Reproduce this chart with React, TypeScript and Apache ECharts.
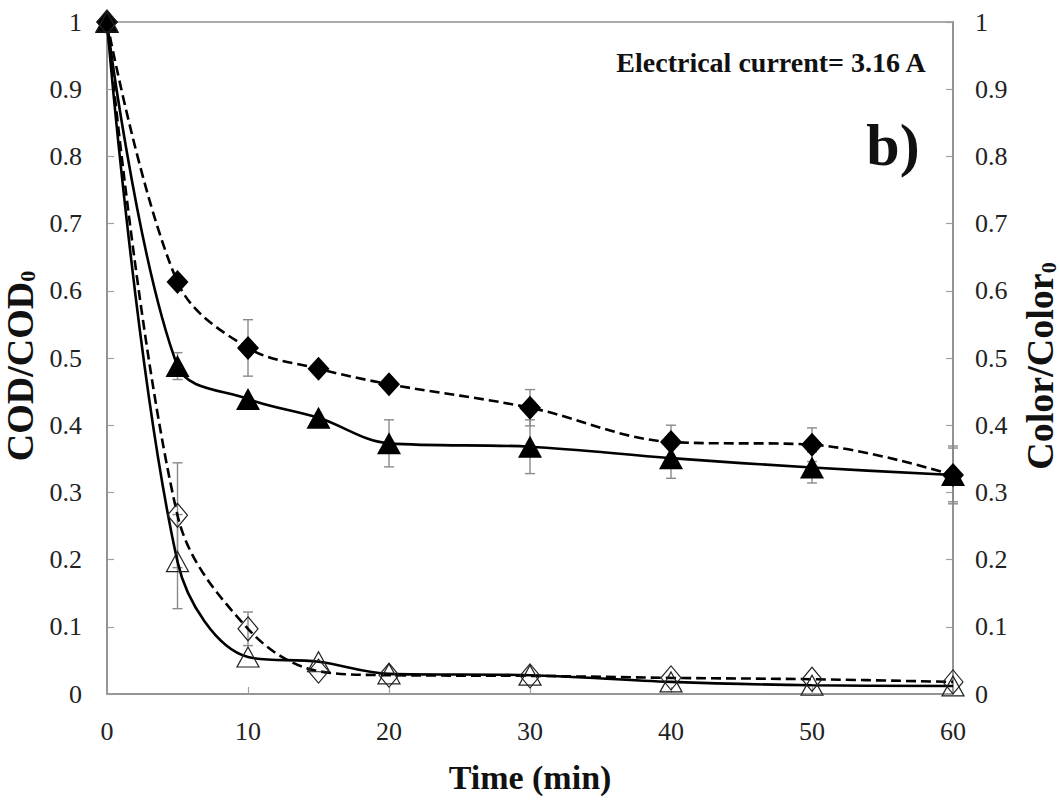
import React, { useEffect, useRef } from "react";
import * as echarts from "echarts";

const times = [0, 5, 10, 15, 20, 30, 40, 50, 60];
const codFilled = [1, 0.613, 0.515, 0.484, 0.461, 0.426, 0.375, 0.371, 0.326];
const codFilledErr = [0, 0, 0.042, 0, 0, 0.027, 0.025, 0.025, 0.043];
const colorFilled = [1, 0.488, 0.439, 0.411, 0.373, 0.368, 0.351, 0.337, 0.326];
const colorFilledErr = [0, 0.02, 0, 0, 0.035, 0.04, 0.03, 0.023, 0.04];
const codOpen = [1, 0.266, 0.097, 0.034, 0.028, 0.027, 0.024, 0.022, 0.018];
const codOpenErr = [0, 0.078, 0.025, 0, 0, 0, 0, 0, 0];
const colorOpen = [1, 0.197, 0.055, 0.048, 0.03, 0.028, 0.018, 0.013, 0.012];
const colorOpenErr = [0, 0.07, 0, 0, 0, 0, 0, 0, 0];

const FONT = "Liberation Serif";

function pairs(vals: number[]) {
  return times.map((t, i) => [t, vals[i]]);
}

function errData(vals: number[], errs: number[]) {
  const out: number[][] = [];
  times.forEach((t, i) => {
    if (errs[i] > 0) out.push([t, vals[i] - errs[i], vals[i] + errs[i]]);
  });
  return out;
}

function errSeries(vals: number[], errs: number[], yAxisIndex: number) {
  return {
    type: "custom",
    yAxisIndex,
    z: 1,
    silent: true,
    data: errData(vals, errs),
    renderItem: (params: any, api: any) => {
      const x = api.value(0);
      const lo = api.coord([x, api.value(1)]);
      const hi = api.coord([x, api.value(2)]);
      const w = 5;
      const style = { stroke: "#8a8a8a", lineWidth: 1.4 };
      return {
        type: "group",
        children: [
          { type: "line", shape: { x1: lo[0], y1: lo[1], x2: hi[0], y2: hi[1] }, style },
          { type: "line", shape: { x1: lo[0] - w, y1: lo[1], x2: lo[0] + w, y2: lo[1] }, style },
          { type: "line", shape: { x1: hi[0] - w, y1: hi[1], x2: hi[0] + w, y2: hi[1] }, style },
        ],
      };
    },
  };
}

function mkAxisLine() {
  return { show: true, lineStyle: { color: "#8f8f8f", width: 1.6 } };
}
function mkAxisTick() {
  return { show: true, inside: true, length: 7, lineStyle: { color: "#a0a0a0", width: 1.2 } };
}
function mkLabel(margin: number) {
  return { show: true, margin, fontFamily: FONT, fontSize: 26, color: "#222" };
}
function mkRich() {
  return {
    m: { fontFamily: FONT, fontSize: 38, fontWeight: "bold", color: "#111" },
    s: { fontFamily: FONT, fontSize: 22, fontWeight: "bold", color: "#111", verticalAlign: "bottom", padding: [16, 0, 0, 0] },
  };
}

export default function App() {
  const ref = useRef<HTMLDivElement>(null);
  useEffect(() => {
    if (!ref.current) return;
    const chart = echarts.init(ref.current, undefined, { renderer: "svg" });
    const option: any = {
      animation: false,
      backgroundColor: "#fff",
      textStyle: { fontFamily: FONT },
      grid: {
        left: 107,
        right: 107,
        top: 22,
        bottom: 109,
        show: true,
        borderColor: "#8f8f8f",
        borderWidth: 1.6,
        containLabel: false,
        outerBoundsMode: "none",
      },
      xAxis: {
        type: "value",
        min: 0,
        max: 60,
        interval: 10,
        axisLine: mkAxisLine(),
        axisTick: mkAxisTick(),
        splitLine: { show: false },
        axisLabel: mkLabel(24),
        name: "Time (min)",
        nameLocation: "middle",
        nameGap: 66,
        nameTextStyle: { fontFamily: FONT, fontSize: 34, fontWeight: "bold", color: "#111" },
      },
      yAxis: [
        {
          type: "value",
          min: 0,
          max: 1,
          interval: 0.1,
          position: "left",
          axisLine: mkAxisLine(),
          axisTick: mkAxisTick(),
          splitLine: { show: false },
          axisLabel: mkLabel(25),
          name: "{m|COD/COD}{s|0}",
          nameLocation: "middle",
          nameGap: 55,
          nameTextStyle: { rich: mkRich(), padding: [0, 16, 0, 0] },
        },
        {
          type: "value",
          min: 0,
          max: 1,
          interval: 0.1,
          position: "right",
          axisLine: mkAxisLine(),
          axisTick: mkAxisTick(),
          splitLine: { show: false },
          axisLabel: mkLabel(22),
          name: "{m|Color/Color}{s|0}",
          nameLocation: "middle",
          nameGap: 68,
          nameRotate: 90,
          nameTextStyle: { rich: mkRich(), padding: [0, 16, 0, 0] },
        },
      ],
      graphic: [
        {
          type: "text",
          x: 771,
          y: 62,
          style: {
            text: "Electrical current= 3.16 A",
            fontFamily: FONT,
            fontSize: 28,
            fontWeight: "bold",
            fill: "#111",
            textAlign: "center",
            textVerticalAlign: "middle",
          },
        },
        {
          type: "text",
          x: 893,
          y: 145,
          style: {
            text: "b)",
            fontFamily: FONT,
            fontSize: 60,
            fontWeight: "bold",
            fill: "#111",
            textAlign: "center",
            textVerticalAlign: "middle",
          },
        },
      ],
      series: [
        errSeries(codFilled, codFilledErr, 0),
        errSeries(colorFilled, colorFilledErr, 1),
        errSeries(codOpen, codOpenErr, 0),
        errSeries(colorOpen, colorOpenErr, 1),
        {
          name: "COD filled",
          type: "line",
          yAxisIndex: 0,
          smooth: 0.35,
          data: pairs(codFilled),
          symbol: "diamond",
          symbolSize: [22, 24],
          z: 3,
          lineStyle: { color: "#000", width: 2.6, type: [10, 5] },
          itemStyle: { color: "#000" },
        },
        {
          name: "Color filled",
          type: "line",
          yAxisIndex: 1,
          smooth: 0.35,
          data: pairs(colorFilled),
          symbol: "triangle",
          symbolSize: [24, 22],
          z: 3,
          lineStyle: { color: "#000", width: 2.6 },
          itemStyle: { color: "#000" },
        },
        {
          name: "COD open",
          type: "line",
          yAxisIndex: 0,
          smooth: 0.35,
          data: pairs(codOpen),
          symbol: "diamond",
          symbolSize: [20, 24],
          z: 3,
          lineStyle: { color: "#000", width: 2.6, type: [10, 5] },
          itemStyle: { color: "rgba(255,255,255,0)", borderColor: "#222", borderWidth: 1.2 },
        },
        {
          name: "Color open",
          type: "line",
          yAxisIndex: 1,
          smooth: 0.35,
          data: pairs(colorOpen),
          symbol: "triangle",
          symbolSize: [22, 20],
          z: 3,
          lineStyle: { color: "#000", width: 2.6 },
          itemStyle: { color: "rgba(255,255,255,0)", borderColor: "#222", borderWidth: 1.2 },
        },
      ],
    };
    chart.setOption(option);
    return () => chart.dispose();
  }, []);
  return (
    <div
      ref={ref}
      style={{ position: "fixed", left: 0, top: 0, width: 1060, height: 803, background: "#fff" }}
    />
  );
}
